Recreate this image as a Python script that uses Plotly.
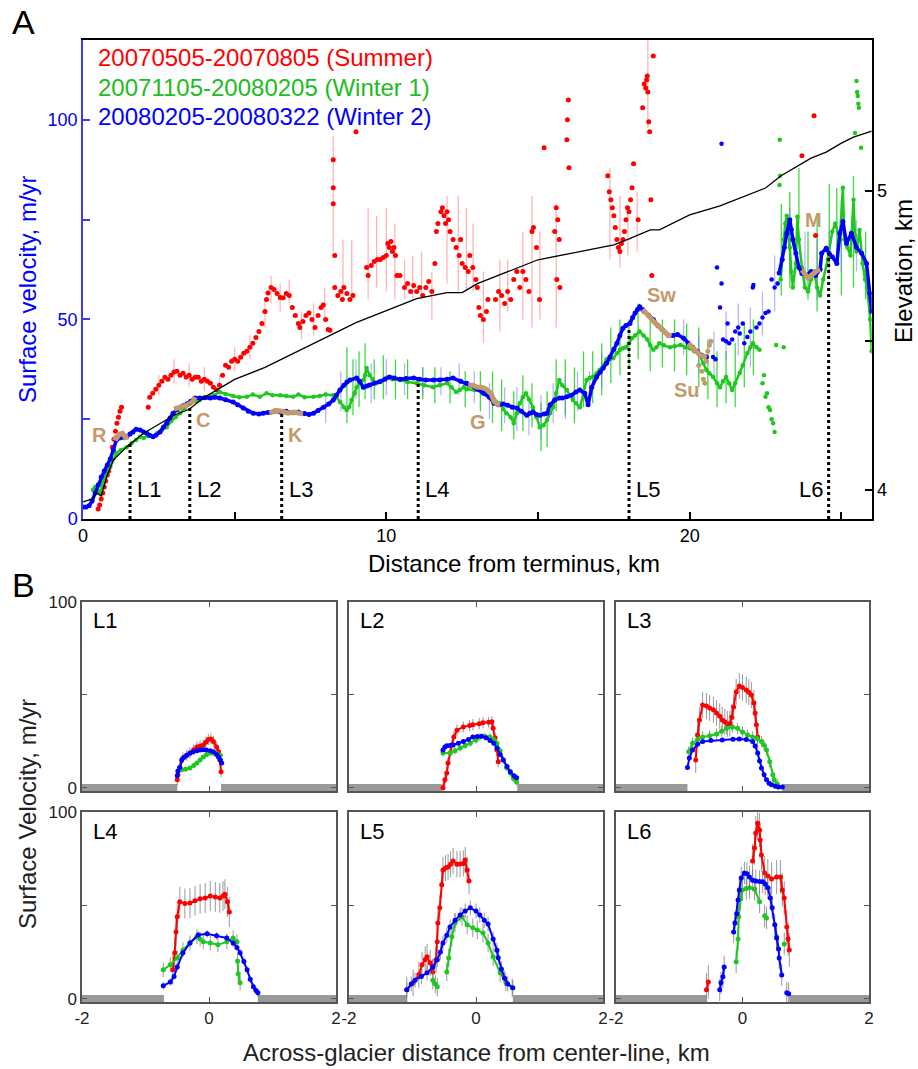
import plotly.graph_objects as go

# ---------------- Panel A data ----------------
# Elevation profile (km) vs distance (km)
elev_km = [0.0, 0.3, 0.45, 0.6, 0.8, 1.0, 1.5, 2.0, 2.5, 3.0, 3.5, 4.0, 4.5, 5.0, 6.0, 7.0, 8.0, 9.0,
           10.0, 11.0, 12.0, 12.5, 13.0, 14.0, 15.0, 16.0, 17.0, 17.5, 18.0, 18.7, 19.0, 20.0, 21.0,
           22.0, 22.5, 23.0, 23.5, 24.0, 24.5, 25.0, 25.4, 26.0]
elev_val = [3.96, 3.97, 3.99, 3.98, 4.05, 4.10, 4.15, 4.19, 4.22, 4.25, 4.27, 4.31, 4.34, 4.37, 4.41,
            4.46, 4.51, 4.56, 4.60, 4.64, 4.66, 4.66, 4.69, 4.73, 4.77, 4.79, 4.81, 4.82, 4.84, 4.87,
            4.87, 4.92, 4.95, 4.99, 5.01, 5.05, 5.08, 5.11, 5.13, 5.16, 5.18, 5.20]

# Summer (red)
red_x = [0.5, 0.55, 0.6, 0.65, 0.7, 0.75, 0.8, 0.85, 0.97, 1.02, 1.07, 1.12, 1.17, 1.22, 1.27, 2.15,
         2.2, 2.3, 2.4, 2.5, 2.6, 2.7, 2.8, 2.9, 3.0, 3.1, 3.2, 3.3, 3.4, 3.5, 3.6, 3.7, 3.8, 3.9, 4.0,
         4.1, 4.2, 4.3, 4.4, 4.5, 4.6, 4.7, 4.8, 4.9, 5.0, 5.1, 5.2, 5.3, 5.4, 5.5, 5.6, 5.7, 5.8, 5.9,
         6.0, 6.05, 6.1, 6.2, 6.3, 6.4, 6.5, 6.6, 6.7, 6.8, 6.9, 7.0, 7.1, 7.15, 7.25, 7.35, 7.45, 7.55,
         7.65, 7.75, 7.85, 7.92, 8.0, 8.08, 8.14,
         8.25, 8.25, 8.25, 8.3, 8.3, 8.4, 8.5, 8.55, 8.6, 8.7, 8.8, 8.9, 9.0,
         9.35, 9.4, 9.5, 9.6, 9.7, 9.8, 9.9, 10.0, 10.05, 10.1, 10.15, 10.2, 10.25, 10.3, 10.35, 10.45,
         10.6, 10.7, 10.8, 10.9, 11.0, 11.1, 11.2, 11.3, 11.4, 11.5, 11.6, 11.65, 11.7, 11.8, 11.85,
         11.9, 11.95, 12.0, 12.05, 12.1, 12.2, 12.3, 12.4, 12.45, 12.5, 12.6, 12.7, 12.75, 12.85, 12.95,
         13.0, 13.05, 13.1, 13.2, 13.3, 13.35, 13.6, 13.7, 13.8, 13.9, 14.0, 14.1, 14.2, 14.3, 14.4,
         14.5, 14.6, 14.7, 14.8, 14.85, 14.95, 15.05, 15.2, 15.55, 15.6, 15.65, 15.7, 15.62, 15.72,
         15.95, 15.97, 16.0, 16.02,
         17.3, 17.35, 17.4, 17.45, 17.5, 17.55, 17.6, 17.65, 17.7, 17.75, 17.8, 17.85, 17.9, 17.95,
         18.0, 18.05, 18.1, 18.15, 18.3, 18.45, 18.5, 18.55, 18.58, 18.6, 18.62, 18.65, 18.68, 18.72,
         18.8, 18.75, 23.7, 24.1, 24.15]
red_v = [2.5, 3.5, 5, 6.5, 8, 9.5, 11, 12, 18, 20, 22, 24, 25.5, 27, 28, 28,
         30.5, 31.5, 32.5, 33.5, 34.5, 35.5, 35, 36, 36.8, 37, 36, 36.5, 35.6, 36, 35, 35.5, 35.5, 34.5, 35,
         34.5, 34, 33, 32.3, 33.5, 36, 38.5, 38, 39.5, 40, 39.5, 40.5, 41.5, 42, 43, 44, 45.5, 47, 49,
         52, 55, 56.6, 58, 57.5, 56.5, 55.5, 55.4, 56.5, 56, 53, 51, 49, 48, 49.5, 51, 51.6, 50,
         48, 51, 53, 53.6, 50, 47.5, 47.3,
         79, 83, 90, 66, 58, 56, 57, 55, 58, 56.5, 55, 56, 97,
         63, 61, 63.5, 64.5, 65, 65, 65.5, 66, 69, 68, 69.5, 67, 68, 66, 61, 61,
         58, 59, 57, 58.5, 57, 58, 56, 58, 59.5, 57, 64, 72, 74, 77, 78,
         76, 74, 77, 75, 72, 70, 68, 66, 70, 64, 63, 62, 66, 63, 60,
         58, 53, 51, 50, 52, 55, 55, 57, 56, 54, 57, 55, 60, 62, 58,
         62, 60, 57, 72, 73, 68, 55, 93, 72, 78, 75, 70, 60, 58,
         95, 100, 105, 88,
         86, 82, 80, 78, 76, 73, 70, 68, 67, 69, 70, 72, 75, 78,
         77, 80, 83, 89, 75, 103, 109, 108, 110, 111, 107, 99.5, 97, 80,
         116, 61, 91, 101, 71]

# Summer error bars (x, low, high)
red_bar_x = [2.5, 3.0, 3.5, 4.0, 4.5, 5.0, 5.5, 6.0, 6.2, 6.5, 6.8, 7.2, 7.6, 7.97, 8.25, 8.57, 8.86,
             9.4, 9.68, 10.0, 10.28, 10.6, 10.87, 11.16, 11.5, 12.0, 12.37, 12.64, 12.86, 13.2, 13.74,
             14.0, 14.5, 14.8, 15.06, 15.6, 17.37, 17.7, 17.96, 18.27, 18.62]
red_bar_lo = [31, 34, 33, 32, 31, 37, 40, 48, 54, 52, 54, 45, 46, 50, 67, 55, 55, 55, 58, 57, 55, 55, 55,
              55, 50, 59, 57, 57, 57, 44, 47, 52, 50, 48, 50, 48, 65, 63, 66, 67, 98]
red_bar_hi = [36, 40, 39, 38, 36, 43, 46, 55, 61, 59, 60, 52, 54, 58, 96, 70, 70, 78, 76, 78, 74, 65, 66,
              67, 62, 81, 81, 78, 74, 62, 65, 65, 72, 81, 72, 79, 88, 81, 77, 82, 120]

# Winter 1 (green) - continuous part
green_x = [0.33, 0.4, 0.5, 0.56, 0.65, 0.75, 0.9, 1.0, 1.1, 1.25, 1.44, 1.6, 1.75, 1.88, 2.0, 2.15, 2.31,
           2.45, 2.6, 2.76, 2.9, 3.05, 3.2, 3.35, 3.53, 3.7, 3.85, 4.05, 4.29, 4.51, 4.7, 4.95, 5.15, 5.4,
           5.6, 5.83, 6.05, 6.25, 6.5, 6.7, 6.93, 7.1, 7.3, 7.6, 7.8, 8.0, 8.25, 8.35, 8.47, 8.6, 8.69,
           8.77, 8.85, 8.95, 9.02, 9.12, 9.24, 9.3, 9.35, 9.45, 9.55, 9.68, 9.85, 10.0, 10.2, 10.45, 10.7,
           11.0, 11.25, 11.54, 11.76, 12.0, 12.15, 12.3, 12.42, 12.55, 12.65, 12.9, 13.2, 13.4, 13.55,
           13.74, 13.85, 13.96, 14.1, 14.2, 14.3, 14.4, 14.5, 14.6, 14.7, 14.83, 14.95, 15.06, 15.18, 15.3,
           15.4, 15.5, 15.6, 15.7, 15.8, 15.95, 16.05, 16.15, 16.25, 16.38, 16.5, 16.6, 16.7, 16.8, 16.93,
           17.03, 17.15, 17.26, 17.37, 17.48, 17.6, 17.7, 17.8, 17.9, 18.0, 18.1, 18.2, 18.35, 18.48, 18.6,
           18.7, 18.8, 18.9, 19.0, 19.15, 19.35, 19.5, 19.7, 19.85, 20.0, 20.15, 20.33, 20.45, 20.55, 20.65,
           20.77, 20.9, 21.0, 21.1, 21.2, 21.3, 21.4, 21.5, 21.65, 21.75, 21.9, 22.0, 22.08, 22.2, 22.3,
           None,
           23.0, 23.05, 23.1, 23.15, 23.2, 23.25, 23.3, 23.35, 23.4, 23.5, 23.55, 23.6, 23.7, 23.8, 23.9,
           24.0, 24.1, 24.2, 24.3, 24.4, 24.55, 24.7, 24.8, 24.95, 25.05, 25.1, 25.2, 25.3, 25.4, 25.45,
           25.5, 25.6, 25.7, 25.78, 25.85, 25.95, 26.0]
green_v = [7.3, 8, 7, 6.5, 9, 11, 13, 15, 16.5, 17.3, 18, 19, 19.8, 20.6, 20.3, 20.8, 20.6,
           21.5, 22.3, 23, 24.5, 25.5, 26.5, 27.8, 29, 29.5, 29.8, 30.5, 31, 31.8, 31.3, 30.8, 30.5, 30.6,
           31.2, 30.6, 31.5, 31, 31, 30.8, 30.6, 31.2, 30.5, 30.6, 30.8, 31.2, 31, 30.5, 29.3, 28, 27.3,
           28, 29.8, 31.5, 33, 34, 34.8, 36, 37.8, 36, 35, 34, 34.5, 35.3, 35, 34.8, 34.3,
           34, 33.5, 33, 33.5, 34, 33, 31.8, 32.3, 33, 32.5, 32.3, 32.3, 30.6, 30,
           29, 27.5, 26.5, 25.5, 24, 26.5, 29, 30.5, 31.5, 30, 28, 25.5, 23, 23.5, 24.8,
           26.5, 28, 31.5, 34.8, 33.5, 32.3, 31, 29.8, 29, 28, 31.5, 34.8, 35.3, 35.6, 36.5,
           37.3, 38.5, 40, 40, 40.3, 41.5, 42.4, 42.8, 43, 44, 45.3, 46, 47, 46, 45,
           43.5, 42.4, 43, 44, 43.5, 43, 43.3, 43.6, 43, 42.8, 42, 41, 39, 37.3, 36.5,
           35.6, 34, 33, 34.5, 35.6, 34, 32.3, 34, 36.6, 38.5, 41.6, 43, 44, 43, 42.4,
           None,
           60, 65, 70, 74, 76, 72, 68, 62, 58, 64, 75.7, 70, 63, 58, 57,
           60, 62, 58, 56, 60, 65, 72, 74, 70, 83, 70, 68, 66, 80, 71,
           67, 72.4, 64, 60, 58, 50, 42]
# Winter 1 scattered points
green_sp_x = [22.4, 22.45, 22.5, 22.55, 22.6, 22.65, 22.7, 22.75, 22.8, 22.85, 23.1, 22.9, 22.96, 22.98,
              22.97, 25.5, 25.52, 25.54, 25.56, 25.58, 25.45, 25.65]
green_sp_v = [34, 36, 30.6, 31.5, 28, 27.3, 25, 24, 21.8, 43.6, 43, 59, 83.7, 86,
              95, 109.7, 107, 106, 104, 103, 96.7, 93]
green_bar_x = [8.7, 8.9, 9.1, 9.3, 9.6, 9.9, 10.3, 10.7, 11.2, 11.6, 12.1, 12.6, 13.1, 13.5, 13.8, 14.2,
               14.5, 14.8, 15.1, 15.3, 15.6, 15.9, 16.2, 16.5, 16.8, 17.1, 17.4, 17.7, 18.0, 18.3, 18.7,
               19.1, 19.5, 19.9, 20.3, 20.6, 20.9, 21.2, 21.5, 21.8, 22.1, 23.02, 23.3, 23.6, 23.9, 24.2,
               24.6, 24.85, 25.0, 25.4, 25.8]
green_bar_lo = [24, 26, 28, 30, 30, 30, 30, 30, 30, 29, 29, 28, 27, 24, 22, 20, 22, 23, 17, 18, 27, 26, 24,
                28, 29, 31, 34, 36, 38, 40, 37, 38, 37, 36, 33, 30, 28, 29, 28, 33, 36, 56, 58, 74, 55, 52,
                63, 66, 56, 58, 55]
green_bar_hi = [43, 40, 42, 44, 40, 41, 40, 40, 38, 38, 37, 37, 37, 37, 35, 32, 36, 34, 29, 32, 40, 40, 38,
                42, 42, 44, 48, 50, 50, 54, 50, 50, 50, 49, 48, 45, 42, 42, 44, 49, 50, 79, 82, 88, 72, 76,
                84, 83, 80, 86, 72]

# Winter 2 (blue) - continuous part
blue_x = [0.0, 0.1, 0.2, 0.3, 0.4, 0.5, 0.6, 0.7, 0.8, 0.9, 1.0, 1.1, 1.2, 1.3, 1.44, 1.55, 1.65, 1.75,
          1.88, 2.0, 2.1, 2.2, 2.31, 2.4, 2.54, 2.65, 2.76, 2.87, 2.97, 3.1, 3.2, 3.3, 3.42, 3.55, 3.69,
          3.85, 4.0, 4.2, 4.35, 4.51, 4.7, 4.95, 5.1, 5.28, 5.45, 5.61, 5.8, 5.94, 6.1, 6.3, 6.5, 6.7,
          6.9, 7.1, 7.3, 7.45, 7.6, 7.75, 7.93, 8.1, 8.25, 8.35, 8.47, 8.6, 8.7, 8.8, 9.02, 9.12, 9.24,
          9.35, 9.45, 9.6, 9.78, 9.95, 10.1, 10.25, 10.45, 10.65, 10.9, 11.1, 11.3, 11.55, 11.76, 12.0,
          12.2, 12.45, 12.65, 12.75, 13.0, 13.2, 13.4, 13.55, 13.7, 13.85, 14.0, 14.15, 14.3, 14.45,
          14.63, 14.73, 14.83, 14.95, 15.06, 15.2, 15.3, 15.4, 15.55, 15.7, 15.8, 15.95, 16.1, 16.25,
          16.38, 16.54, 16.65, 16.77, 16.93, 17.05, 17.15, 17.26, 17.37, 17.5, 17.6, 17.7, 17.8, 17.9,
          18.03, 18.12, 18.2, 18.28, 18.35, 18.45, 18.5, 18.65, 18.8, 18.95, 19.1, 19.3, 19.45, 19.6,
          19.8, 19.95, 20.1, 20.25, 20.4, 20.55,
          None,
          22.95, 23.05, 23.12, 23.2, 23.3, 23.35, 23.4, 23.5, 23.6, 23.7, 23.85, 24.0, 24.15, 24.3, 24.35,
          24.5, 24.6, 24.7, 24.85, 24.95, 25.05, 25.17, 25.33, 25.5, 25.67, 25.83, 25.93, 26.0]
blue_v = [3, 3, 3.3, 4.5, 6.5, 8.5, 10.5, 12, 13.5, 15, 17.3, 19.8, 20.3, 20.5, 20.6, 21.3, 21.8, 22.5,
          22.3, 21.8, 21.5, 21, 20.6, 21, 21.8, 23, 24, 25.3, 26.5, 27.4, 28, 28.4, 28.8, 29.5, 30.3,
          30.3, 30.4, 30.3, 30.5, 30.3, 29.9, 29.3, 28.6, 27.8, 27, 26.5, 26.3, 26.5, 26.7, 27, 26.8, 27,
          26.6, 26.8, 26.4, 26.2, 26.5, 27.2, 28, 28.8, 29.8, 31, 32.3, 33.5, 34.3, 34.8, 35.3, 34.5, 33,
          33.3, 33.6, 34, 34.4, 35, 35.6, 35.3, 35, 35.2, 35.3, 35, 34.8, 34.8, 34.8, 35,
          35.3, 34.5, 34, 33.5, 32.5, 31.5, 30.5, 29, 28.6, 28.8, 28.5, 28, 27.8, 27,
          26, 26.5, 26.8, 26.2, 26, 26.3, 26.5, 28.6, 29.8, 30.3, 30.3, 30.6, 31, 31.8,
          32.3, 31.5, 28.6, 33, 35.6, 36.8, 37.8, 39, 40.6, 42.5, 44, 46, 47.8, 48.5,
          49, 50.5, 51.6, 52.5, 53.2, 52.5, 52, 51, 50, 48.5, 47.4, 46, 46, 46.2,
          45.3, 44, 43, 42, 41, 40.6,
          None,
          61.6, 65, 68, 71.6, 75, 72.5, 70, 66.6, 63, 61.5, 61, 62, 61, 62.5, 66.6,
          67.8, 66.5, 65.7, 64, 71.6, 74.5, 69, 71.6, 68, 66.6, 64, 56.6, 52]
# Winter 2 scattered points
blue_sp_x = [20.77, 20.85, 20.9, 21.0, 21.05, 21.05, 21.1, 21.2, 21.25, 21.3, 21.4, 21.5, 21.6, 21.65,
             21.75, 21.8, 21.9, 22.0, 22.08, 22.1, 22.2, 22.3, 22.4, 22.5, 22.6, 22.7, 22.8, 22.9]
blue_sp_v = [40.6, 40, 63, 53, 59, 94, 45, 44.5, 49, 44, 45, 47, 48, 46.5,
             49, 44, 45.6, 47, 58, 58.6, 48, 49, 50.5, 51.6, 52, 60, 58, 59]
blue_bar_x = [8.0, 8.5, 9.0, 9.5, 10.0, 10.6, 11.2, 11.8, 12.4, 12.9, 13.4, 13.9, 14.3, 14.7, 15.1, 15.5,
              15.9, 16.3, 16.7, 17.1, 19.8, 20.3, 20.8, 21.2, 21.6, 22.0, 22.4, 22.8, 23.3, 23.8, 24.2,
              24.6, 25.0, 25.5]
blue_bar_lo = [24, 27, 30, 29, 31, 31, 31, 31, 31, 29, 25, 24, 22, 21, 20, 24, 25, 27, 29, 33, 41, 37, 36,
               40, 41, 38, 46, 52, 62, 58, 55, 60, 62, 62]
blue_bar_hi = [32, 37, 40, 39, 40, 39, 38, 38, 39, 37, 34, 33, 33, 31, 31, 34, 36, 37, 37, 42, 50, 46, 47,
               52, 54, 53, 57, 66, 78, 72, 70, 72, 76, 75]

# Highlighted (tributary) segments, brown
brown_x = [1.0, 1.1, 1.2, 1.3, 1.4, 1.5, None,
           3.0, 3.15, 3.3, 3.45, 3.6, 3.7, None,
           6.15, 6.35, 6.55, 6.75, 6.95, 7.1, 7.25, None,
           12.7, 12.85, 13.0, 13.15, 13.3, 13.45, 13.55, 13.65, 13.75, None,
           18.45, 18.55, 18.65, 18.75, 18.85, 18.95, 19.05, 19.15, 19.3, 19.4, None,
           19.95, 20.05, 20.15, 20.25, 20.35, 20.45, 20.55, None,
           23.7, 23.8, 23.9, 24.0, 24.1, 24.2, 24.3]
brown_v = [20.5, 20.2, 21.2, 21.5, 20.4, 20.6, None,
           27.5, 27.8, 28.2, 28.6, 29.3, 30.5, None,
           26.5, 27.2, 27.0, 26.5, 26.8, 26.4, 26.3, None,
           33.5, 33.5, 33.0, 33.0, 32.5, 31.5, 29.5, 28.8, 28.6, None,
           52.5, 51.5, 51.0, 50.0, 49.2, 48.5, 47.8, 47.0, 46.0, 45.8, None,
           44.0, 43.2, 42.5, 41.8, 41.0, 40.8, 40.3, None,
           62.4, 61.2, 60.4, 61.0, 61.8, 62.2, 62.5]
brown_sp_x = [20.3, 20.4, 20.45, 20.5, 20.55, 20.6, 20.65, 20.7]
brown_sp_v = [38.5, 37, 35, 34, 39.5, 42, 43.5, 44.5]
trib_names = ["R", "C", "K", "G", "Sw", "Su", "M"]
trib_x = [0.55, 3.97, 7.0, 13.02, 19.08, 19.9, 24.08]
trib_v = [21, 24.8, 21, 24.3, 56, 32.2, 74.8]

# Cross-section locations
prof_names = ["L1", "L2", "L3", "L4", "L5", "L6"]
prof_km = [1.55, 3.52, 6.55, 11.05, 18.0, 24.58]
prof_top = [19.3, 28.6, 26.5, 34.8, 48.0, 66.6]

series_labels = ["20070505-20070805 (Summer)", "20071105-20080205 (Winter 1)",
                 "20080205-20080322 (Winter 2)"]

# ---------------- Panel B data (across-glacier profiles) ----------------
b1_red_x = [-0.5, -0.49, -0.46, -0.41, -0.35, -0.3, -0.24, -0.19, -0.14, -0.09, -0.05, -0.01, 0.03, 0.07, 0.12, 0.15, 0.17, 0.19]
b1_red_v = [4.3, 7, 11, 16, 17.5, 18.8, 20.5, 22, 22.5, 23, 24.5, 26, 26.3, 25, 22, 19.4, 15, 8.6]
b1_green_x = [-0.43, -0.37, -0.3, -0.24, -0.19, -0.14, -0.09, -0.04, 0.02, 0.07, 0.12, 0.18]
b1_green_v = [9.7, 10, 10.7, 12, 13.4, 15, 16.6, 17.8, 18.8, 18.6, 18.3, 17.6]
b1_blue_x = [-0.5, -0.49, -0.46, -0.43, -0.39, -0.35, -0.3, -0.25, -0.19, -0.14, -0.09, -0.04, 0.02, 0.07, 0.12, 0.15, 0.18, 0.2]
b1_blue_v = [6.5, 9, 11, 15, 16.5, 17.6, 18.6, 19.4, 20, 20.4, 20.5, 20.4, 20, 19.4, 18, 16.6, 15, 13.4]

b2_red_x = [-0.52, -0.49, -0.46, -0.44, -0.41, -0.38, -0.35, -0.3, -0.2, -0.1, -0.05, 0.05, 0.11, 0.2, 0.25, 0.27, 0.3, 0.33, 0.35]
b2_red_v = [0, 4.3, 8, 13.4, 18.8, 23, 27.4, 31, 32.8, 33.5, 34, 34.5, 35, 35.3, 35.5, 32, 27, 20.4, 14]
b2_green_x = [-0.52, -0.41, -0.33, -0.25, -0.17, -0.09, 0, 0.06, 0.14, 0.22, 0.28, 0.33, 0.38, 0.43, 0.48, 0.54, 0.59, 0.64]
b2_green_v = [18.8, 18.8, 20, 21.5, 22.8, 24, 25.8, 27.4, 27.6, 27.4, 26, 24, 20, 15, 11, 8, 5, 3.2]
b2_blue_x = [-0.52, -0.49, -0.46, -0.41, -0.36, -0.28, -0.2, -0.12, -0.05, 0.02, 0.09, 0.16, 0.22, 0.28, 0.33, 0.38, 0.43, 0.49, 0.54, 0.6, 0.64]
b2_blue_v = [20.4, 22, 22.6, 22.8, 23, 24, 25, 26, 27.4, 27.6, 27.8, 27, 25.5, 24, 21.5, 18, 15, 11.5, 8.6, 6.5, 5.4]

b3_red_x = [-0.74, -0.71, -0.68, -0.63, -0.57, -0.52, -0.46, -0.41, -0.36, -0.32, -0.28, -0.24, -0.2, -0.17, -0.14, -0.1, -0.05, 0, 0.06, 0.1, 0.14, 0.18, 0.2, 0.22, 0.24]
b3_red_v = [15, 28.5, 36.5, 44.6, 44, 43, 42, 40.3, 38.5, 36.5, 35.5, 34.4, 34.5, 38, 43.5, 51.6, 54.8, 54, 52.7, 51.5, 50, 45.7, 40.3, 34, 27.4]
b3_green_x = [-0.85, -0.79, -0.71, -0.63, -0.52, -0.41, -0.33, -0.25, -0.16, -0.08, 0, 0.08, 0.16, 0.23, 0.3, 0.34, 0.38, 0.43, 0.48, 0.5, 0.55]
b3_green_v = [19.4, 24, 26, 27.4, 28, 29, 30.5, 32, 32.8, 32, 30, 28.5, 27.4, 26.5, 25, 23, 20.4, 14, 7, 4.3, 2]
b3_blue_x = [-0.87, -0.84, -0.79, -0.71, -0.63, -0.5, -0.32, -0.15, -0.05, 0.06, 0.16, 0.2, 0.24, 0.27, 0.3, 0.34, 0.38, 0.42, 0.46, 0.52, 0.57, 0.63]
b3_blue_v = [11, 16, 20.4, 23.5, 25, 25.5, 25.8, 26.2, 26.3, 26, 25, 22.5, 18.8, 14.5, 10.7, 7, 4.3, 2.5, 1.6, 0.8, 0.5, 0.5]

b4_red_x = [-0.57, -0.54, -0.52, -0.5, -0.46, -0.38, -0.3, -0.22, -0.14, -0.06, 0.02, 0.1, 0.17, 0.22, 0.25, 0.29, 0.32]
b4_red_v = [15.5, 24.6, 35.8, 43.9, 51.9, 51, 51.3, 52.5, 53.5, 54, 55, 54.5, 54, 55, 56, 52, 46.5]
b4_green_x = [-0.72, -0.61, -0.5, -0.41, -0.3, -0.19, -0.14, -0.09, 0.02, 0.14, 0.28, 0.38, 0.44, None, 0.45, 0.46, 0.49]
b4_green_v = [15.5, 18.2, 21.9, 26.2, 29.9, 33.2, 32, 30.5, 29.9, 28.9, 30.5, 32.6, 30.5, None, 20.3, 13.4, 8.6]
b4_blue_x = [-0.72, -0.61, -0.55, -0.5, -0.41, -0.3, -0.17, -0.03, 0.12, 0.28, 0.38, 0.44, 0.49, 0.55, 0.6, 0.65, 0.7, 0.74, 0.77]
b4_blue_v = [7, 9, 12, 17, 24.6, 29.9, 34.2, 34.8, 33.7, 32.6, 29.9, 27.5, 24.6, 20, 15.5, 10.5, 6.4, 4.5, 3.2]

b5_red_x = [-1.09, -0.99, -0.9, -0.85, -0.8, -0.77, -0.72, -0.68, -0.63, -0.61, -0.6, -0.57, -0.54, -0.52, -0.48, -0.44, -0.4, -0.36, -0.3, -0.25, -0.2, -0.17, -0.14, -0.11]
b5_red_v = [4.8, 8.6, 13, 18.2, 21, 22.5, 19.2, 14.4, 20.9, 30.5, 40.6, 48.7, 61, 69, 70, 70.6, 72, 73.8, 72, 72.2, 72.5, 74.3, 69, 63]
b5_green_x = [-0.68, -0.64, -0.61, None, -0.46, -0.43, -0.38, -0.33, -0.22, -0.14, -0.05, 0.02, 0.11, 0.19, 0.27, 0.38, 0.47, 0.57]
b5_green_v = [10, 8, 6.4, None, 14.4, 21.9, 33.2, 40.6, 43.9, 39.6, 38, 36.9, 35.3, 29.9, 22.5, 13.9, 9, 5.9]
b5_blue_x = [-1.09, -1.02, -0.96, -0.86, -0.77, -0.68, -0.61, -0.56, -0.52, -0.46, -0.41, -0.33, -0.25, -0.17, -0.09, 0.0, 0.06, 0.13, 0.19, 0.27, 0.33, 0.35, 0.4, 0.45, 0.5, 0.58]
b5_blue_v = [4.8, 8, 10, 12, 13.9, 17, 20.9, 25, 29.9, 34, 38.5, 42, 44.9, 47, 48.7, 47, 44.9, 42, 40, 32, 26, 22, 16, 11, 8, 5.9]

b6_red_x = [-0.57, -0.54, None, 0.16, 0.19, 0.21, 0.24, 0.27, 0.28, 0.3, 0.35, 0.4, 0.46, 0.54, 0.6, 0.63, 0.66, 0.7, 0.72, 0.74]
b6_red_v = [4.8, 9, None, 73.8, 80.7, 88.8, 94, 90.4, 85, 77, 67.4, 65.8, 64.2, 65.2, 65.2, 58.3, 54, 38.5, 32, 26.2]
b6_green_x = [-0.1, -0.07, -0.06, -0.03, 0, 0.06, 0.11, 0.19, 0.27, None, 0.35, 0.38, None, 0.54, None, 0.66]
b6_green_v = [19.8, 32, 43.9, 53.5, 58.3, 59, 59.4, 58.8, 51.9, None, 44.4, 43.3, None, 33.2, None, 29.4]
b6_blue_x = [-0.36, -0.34, -0.31, -0.29, None, -0.14, -0.12, -0.09, -0.07, -0.05, -0.02, 0.03, 0.07, 0.11, 0.16, 0.21, 0.27, 0.32, 0.36, 0.4, 0.44, 0.47, 0.51, 0.54, 0.57, 0.58, 0.62, None, 0.7, 0.73]
b6_blue_v = [4.8, 8.6, 11.8, 17.1, None, 35.8, 40.6, 45.5, 52.9, 58.3, 64.7, 67.4, 67, 65.2, 63.5, 63.1, 62.8, 62.6, 61.5, 59.4, 54, 48.7, 39.6, 32.6, 26.7, 21.9, 12.8, None, 3.2, 2.7]

# Off-glacier (valley wall) extents for each profile, km
ground_left = [-0.5, -0.54, -0.87, -0.71, -1.09, -0.57]
ground_right = [0.19, 0.65, 0.63, 0.77, 0.58, 0.74]
# Typical error-bar half-widths (m/yr) per profile
b_err_red = [3, 3, 7, 8, 7, 9]
b_err_green = [0, 2, 3, 4, 5, 6]
b_err_blue = [0, 0, 0, 2, 4, 6]

# ---------------- Figure ----------------
W, H = 918, 1069
FONT = "Liberation Sans, Arial, sans-serif"
RED, GREEN, BLUE, BROWN = "#ff0000", "#1ec81e", "#0000ff", "#c49a6c"


def px(x):
    return x / W


def py(y):
    return 1 - y / H


def segs(xs, lo, hi):
    X, Y = [], []
    for x, a, b in zip(xs, lo, hi):
        X += [x, x, None]
        Y += [a, b, None]
    return X, Y


fig = go.Figure()

# error bars panel A
for bx, blo, bhi, col in [(red_bar_x, red_bar_lo, red_bar_hi, "rgba(255,90,90,0.45)"),
                          (green_bar_x, green_bar_lo, green_bar_hi, "rgba(30,210,30,0.85)"),
                          (blue_bar_x, blue_bar_lo, blue_bar_hi, "rgba(110,110,255,0.5)")]:
    X, Y = segs(bx, blo, bhi)
    fig.add_trace(go.Scatter(x=X, y=Y, mode="lines", line=dict(color=col, width=1.3),
                             xaxis="x", yaxis="y", hoverinfo="skip"))

fig.add_trace(go.Scatter(x=red_x, y=red_v, mode="markers", marker=dict(color=RED, size=5),
                         xaxis="x", yaxis="y"))
fig.add_trace(go.Scatter(x=green_x, y=green_v, mode="lines+markers", line=dict(color=GREEN, width=2.5),
                         marker=dict(color=GREEN, size=4.5), xaxis="x", yaxis="y"))
fig.add_trace(go.Scatter(x=green_sp_x, y=green_sp_v, mode="markers", marker=dict(color=GREEN, size=4.5),
                         xaxis="x", yaxis="y"))
fig.add_trace(go.Scatter(x=blue_x, y=blue_v, mode="lines+markers", line=dict(color=BLUE, width=3.5),
                         marker=dict(color=BLUE, size=5), xaxis="x", yaxis="y"))
fig.add_trace(go.Scatter(x=blue_sp_x, y=blue_sp_v, mode="markers", marker=dict(color=BLUE, size=4.5),
                         xaxis="x", yaxis="y"))
fig.add_trace(go.Scatter(x=brown_x, y=brown_v, mode="lines", line=dict(color=BROWN, width=5),
                         xaxis="x", yaxis="y"))
fig.add_trace(go.Scatter(x=brown_sp_x, y=brown_sp_v, mode="markers", marker=dict(color=BROWN, size=5),
                         xaxis="x", yaxis="y"))
LX, LY = segs(prof_km, [0] * len(prof_km), prof_top)
fig.add_trace(go.Scatter(x=LX, y=LY, mode="lines", line=dict(color="black", width=3, dash="dot"),
                         xaxis="x", yaxis="y"))
fig.add_trace(go.Scatter(x=elev_km, y=elev_val, mode="lines", line=dict(color="black", width=1.3),
                         xaxis="x", yaxis="y2"))

# Panel B
col_dom = [(82, 336), (349, 603), (616, 869)]
row_dom = [(602, 791), (812, 1002)]
b_series = [
    (b1_red_x, b1_red_v, b1_green_x, b1_green_v, b1_blue_x, b1_blue_v),
    (b2_red_x, b2_red_v, b2_green_x, b2_green_v, b2_blue_x, b2_blue_v),
    (b3_red_x, b3_red_v, b3_green_x, b3_green_v, b3_blue_x, b3_blue_v),
    (b4_red_x, b4_red_v, b4_green_x, b4_green_v, b4_blue_x, b4_blue_v),
    (b5_red_x, b5_red_v, b5_green_x, b5_green_v, b5_blue_x, b5_blue_v),
    (b6_red_x, b6_red_v, b6_green_x, b6_green_v, b6_blue_x, b6_blue_v),
]
layout_axes = {}
annotations = []
for i, (rx, rv, gx, gv, bx, bv) in enumerate(b_series):
    xa = "x%d" % (i + 2)
    ya = "y%d" % (i + 3)
    r, c = divmod(i, 3)
    # ground
    fig.add_trace(go.Scatter(x=[-2, ground_left[i], None, ground_right[i], 2], y=[0.2, 0.2, None, 0.2, 0.2],
                             mode="lines", line=dict(color="#999999", width=7), xaxis=xa, yaxis=ya))
    for sx, sv, col, e in [(rx, rv, RED, b_err_red[i]), (gx, gv, GREEN, b_err_green[i]),
                           (bx, bv, BLUE, b_err_blue[i])]:
        fig.add_trace(go.Scatter(x=sx, y=sv, mode="lines+markers", line=dict(color=col, width=2),
                                 marker=dict(color=col, size=5),
                                 error_y=dict(type="constant", value=e, color="rgba(110,110,110,0.7)",
                                              thickness=1, width=0, visible=e > 0),
                                 xaxis=xa, yaxis=ya))
    x0, x1 = col_dom[c]
    y0, y1 = row_dom[r]
    layout_axes["xaxis%d" % (i + 2)] = dict(
        domain=[px(x0), px(x1)], anchor=ya, range=[-2, 2], tickvals=[-2, 0, 2],
        ticktext=["-2", "0", "2"], automargin=False,
        showticklabels=(r == 1), ticks="inside", ticklen=5, tickcolor="#555", showline=True,
        linecolor="#555", linewidth=1.5, mirror="ticks", showgrid=False, zeroline=False,
        tickfont=dict(size=17, color="#222", family=FONT))
    layout_axes["yaxis%d" % (i + 3)] = dict(
        domain=[py(y1), py(y0)], anchor=xa, range=[-1.7, 100], tickvals=[0, 50, 100], automargin=False,
        ticktext=["0", "", "100"], showticklabels=(c == 0), ticks="inside", ticklen=5, tickcolor="#555",
        showline=True, linecolor="#555", linewidth=1.5, mirror="ticks", showgrid=False, zeroline=False,
        tickfont=dict(size=17, color="#222", family=FONT))
    annotations.append(dict(text=prof_names[i], xref=xa + " domain", yref=ya + " domain", x=0.035, y=0.9,
                            xanchor="left", yanchor="middle", showarrow=False,
                            font=dict(size=22, color="black", family=FONT)))

# Panel A annotations
for name, xk, vk in zip(trib_names, trib_x, trib_v):
    annotations.append(dict(text="<b>%s</b>" % name, x=xk, y=vk, xref="x", yref="y", showarrow=False,
                            font=dict(size=20, color=BROWN, family=FONT)))
for k, (name, xk) in enumerate(zip(prof_names, prof_km)):
    last = k == len(prof_names) - 1
    annotations.append(dict(text=name, x=xk, y=7.3, xref="x", yref="y", showarrow=False,
                            xanchor="right" if last else "left", xshift=-4 if last else 5,
                            font=dict(size=22, color="black", family=FONT)))
for k, (lab, col) in enumerate(zip(series_labels, [RED, "#22bb22", BLUE])):
    annotations.append(dict(text=lab, x=px(96), y=py(58 + 29 * k), xref="paper", yref="paper",
                            xanchor="left", yanchor="middle", showarrow=False,
                            font=dict(size=24, color=col, family=FONT)))
annotations += [
    dict(text="A", x=px(10), y=py(22), xref="paper", yref="paper", xanchor="left", yanchor="middle",
         showarrow=False, font=dict(size=34, color="black", family=FONT)),
    dict(text="B", x=px(10), y=py(585), xref="paper", yref="paper", xanchor="left", yanchor="middle",
         showarrow=False, font=dict(size=34, color="black", family=FONT)),
    dict(text="Surface velocity, m/yr", x=px(27), y=py(289), xref="paper", yref="paper", textangle=-90,
         showarrow=False, xanchor="center", yanchor="middle", font=dict(size=24, color=BLUE, family=FONT)),
    dict(text="Elevation, km", x=px(904), y=py(271), xref="paper", yref="paper", textangle=-90,
         showarrow=False, xanchor="center", yanchor="middle", font=dict(size=24, color="black", family=FONT)),
    dict(text="Distance from terminus, km", x=px(514), y=py(563), xref="paper", yref="paper",
         showarrow=False, xanchor="center", yanchor="middle", font=dict(size=24, color="black", family=FONT)),
    dict(text="Surface Velocity, m/yr", x=px(27), y=py(814), xref="paper", yref="paper", textangle=-90,
         showarrow=False, xanchor="center", yanchor="middle", font=dict(size=24, color="#222", family=FONT)),
    dict(text="Across-glacier distance from center-line, km", x=px(476), y=py(1052), xref="paper",
         yref="paper", showarrow=False, xanchor="center", yanchor="middle",
         font=dict(size=24, color="#222", family=FONT)),
]

fig.update_layout(
    width=W, height=H, margin=dict(l=0, r=0, t=0, b=0, pad=0), paper_bgcolor="white",
    plot_bgcolor="white", showlegend=False, font=dict(family=FONT),
    xaxis=dict(domain=[px(83), px(871.7)], anchor="y", range=[0, 26], tickvals=[0, 5, 10, 15, 20, 25],
               ticktext=["0", "", "10", "", "20", ""], ticks="inside", ticklen=7, tickwidth=1.5,
               automargin=False, tickcolor="black", showline=True, linecolor="black", linewidth=1.5,
               mirror=True, showgrid=False, zeroline=False,
               tickfont=dict(size=18, color="black", family=FONT)),
    yaxis=dict(domain=[py(519), py(40)], anchor="x", range=[0, 120], tickvals=[0, 25, 50, 75, 100],
               ticktext=["0", "", "50", "", "100"], ticks="inside", ticklen=7, tickwidth=1.5,
               automargin=False, tickcolor="#3a3aff", showline=True, linecolor="#3a3aff", linewidth=1.5,
               showgrid=False, zeroline=False, tickfont=dict(size=18, color="#0000ee", family=FONT)),
    yaxis2=dict(overlaying="y", side="right", anchor="x", range=[3.903, 5.505], tickvals=[4, 4.5, 5],
                ticktext=["4", "", "5"], ticks="inside", ticklen=7, tickwidth=1.5, tickcolor="black",
                automargin=False, showline=True, linecolor="black", linewidth=1.5, showgrid=False,
                zeroline=False, tickfont=dict(size=18, color="black", family=FONT)),
    annotations=annotations,
    **layout_axes,
)

fig.write_html("out.html", config={"displayModeBar": False},
               post_script="document.body.style.margin='0';document.body.style.overflow='hidden';")
